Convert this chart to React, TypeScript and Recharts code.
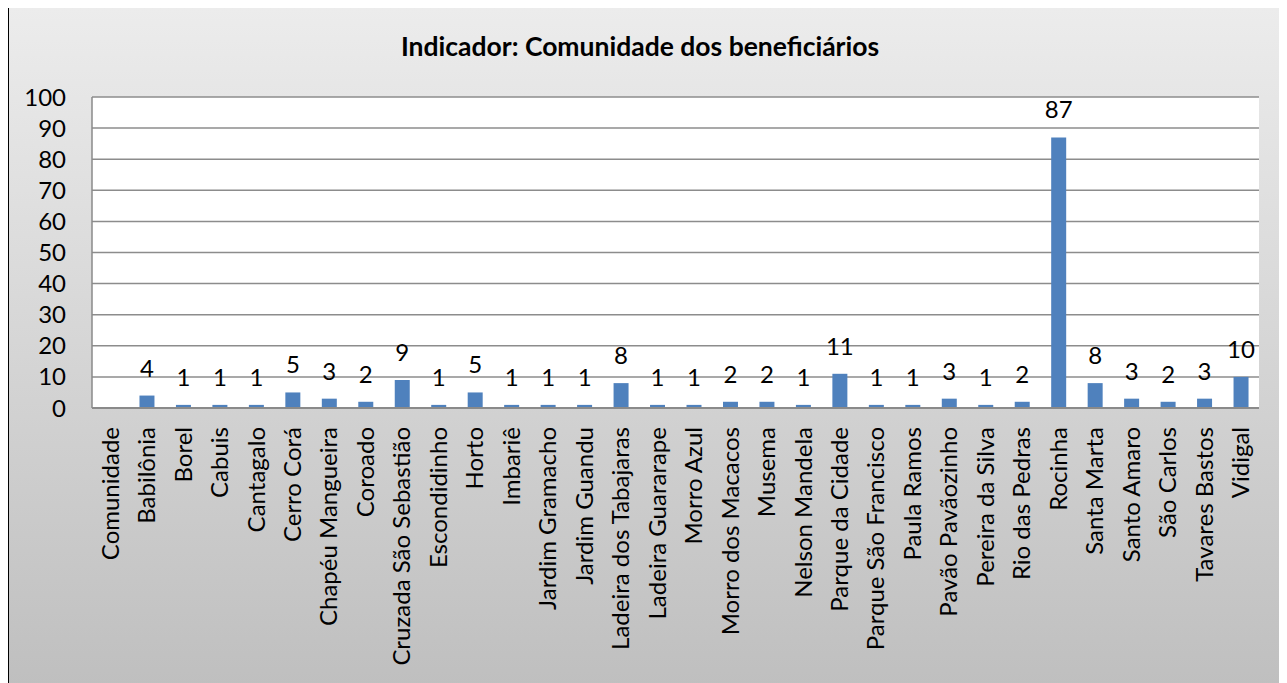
import { BarChart, Bar, XAxis, YAxis, CartesianGrid, LabelList } from 'recharts';

const comunidades: string[] = [
  'Comunidade', 'Babilônia', 'Borel', 'Cabuis', 'Cantagalo', 'Cerro Corá',
  'Chapéu Mangueira', 'Coroado', 'Cruzada São Sebastião', 'Escondidinho', 'Horto',
  'Imbariê', 'Jardim Gramacho', 'Jardim Guandu', 'Ladeira dos Tabajaras',
  'Ladeira Guararape', 'Morro Azul', 'Morro dos Macacos', 'Musema', 'Nelson Mandela',
  'Parque da Cidade', 'Parque São Francisco', 'Paula Ramos', 'Pavão Pavãozinho',
  'Pereira da Silva', 'Rio das Pedras', 'Rocinha', 'Santa Marta', 'Santo Amaro',
  'São Carlos', 'Tavares Bastos', 'Vidigal',
];

const beneficiarios: (number | null)[] = [
  null, 4, 1, 1, 1, 5,
  3, 2, 9, 1, 5,
  1, 1, 1, 8,
  1, 1, 2, 2, 1,
  11, 1, 1, 3,
  1, 2, 87, 8, 3,
  2, 3, 10,
];

const yTicks: number[] = [0, 10, 20, 30, 40, 50, 60, 70, 80, 90, 100];

const titulo = 'Indicador: Comunidade dos beneficiários';

const dados = comunidades.map((nome, i) => ({ nome, valor: beneficiarios[i] }));

const FONTE = 'Lato, "Open Sans", sans-serif';

// rótulo do eixo X girado 90 graus
const TickVertical = (props: any) => {
  const { x, y, payload } = props;
  return (
    <text
      x={x}
      y={y}
      transform={`rotate(-90, ${x}, ${y})`}
      textAnchor="end"
      dy="0.35em"
      fill="#000"
      fontSize={24}
      fontFamily={FONTE}
    >
      {payload.value}
    </text>
  );
};

const RotuloValor = (props: any) => {
  const { x, y, width, value } = props;
  if (value == null) return null;
  return (
    <text
      x={x + width / 2}
      y={y - 19}
      textAnchor="middle"
      fill="#000"
      fontSize={24}
      fontFamily={FONTE}
    >
      {value}
    </text>
  );
};

const App = () => {
  return (
    <div
      style={{
        position: 'relative',
        width: 1281,
        height: 677,
        margin: '-2px 0 0 -1px',
        borderTop: '2px solid #000',
        borderLeft: '2px solid #000',
        background: 'linear-gradient(to bottom, #ececec 0%, #d2d2d2 58%, #bfbfbf 100%)',
        overflow: 'hidden',
      }}
    >
      <div
        style={{
          position: 'absolute',
          left: 0,
          top: 26,
          width: 1262,
          textAlign: 'center',
          fontFamily: FONTE,
          fontWeight: 'bold',
          fontSize: 26.5,
          lineHeight: '24px',
          color: '#000',
        }}
      >
        {titulo}
      </div>
      <BarChart
        width={1279}
        height={675}
        data={dados}
        margin={{ top: 89, right: 29, bottom: 0, left: 0 }}
      >
        <CartesianGrid vertical={false} stroke="#8c8c8c" strokeWidth={1.5} fill="#fff" />
        <XAxis
          dataKey="nome"
          interval={0}
          height={275}
          tickSize={0}
          tickMargin={19}
          tickLine={false}
          axisLine={{ stroke: '#8a8a8a', strokeWidth: 2 }}
          tick={<TickVertical />}
        />
        <YAxis
          width={83}
          domain={[0, 100]}
          ticks={yTicks}
          interval={0}
          tickSize={0}
          tickMargin={26}
          tickLine={false}
          axisLine={{ stroke: '#8a8a8a', strokeWidth: 1.5 }}
          tick={{ fill: '#000', fontSize: 24, fontFamily: FONTE }}
        />
        <Bar dataKey="valor" fill="#4f81bd" barSize={15} isAnimationActive={false}>
          <LabelList dataKey="valor" content={<RotuloValor />} />
        </Bar>
      </BarChart>
    </div>
  );
};

export default App;
